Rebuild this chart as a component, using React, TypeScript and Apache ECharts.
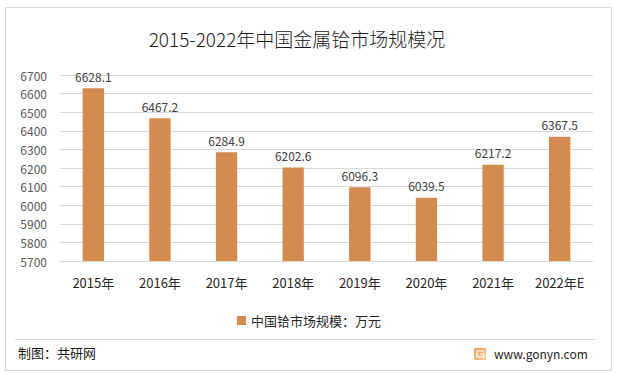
import React, { useEffect, useRef } from "react";
import * as echarts from "echarts";

const categories = ["2015年", "2016年", "2017年", "2018年", "2019年", "2020年", "2021年", "2022年E"];
const values = [6628.1, 6467.2, 6284.9, 6202.6, 6096.3, 6039.5, 6217.2, 6367.5];
const seriesName = "中国铪市场规模：万元";
const titleText = "2015-2022年中国金属铪市场规模况";
const sourceText = "制图：共研网";
const siteText = "www.gonyn.com";

export default function App() {
  const ref = useRef<HTMLDivElement>(null);
  useEffect(() => {
    if (!ref.current) return;
    const chart = echarts.init(ref.current, null, { renderer: "svg" });
    const font = "'Noto Sans CJK SC', 'Noto Sans', sans-serif";
    chart.setOption({
      animation: false,
      backgroundColor: "#ffffff",
      textStyle: { fontFamily: font },
      title: {
        text: titleText,
        left: 292,
        textAlign: "center",
        top: 24,
        textStyle: { fontSize: 19, fontWeight: 300, color: "#1a1a1a", fontFamily: font },
      },
      legend: {
        data: [seriesName],
        bottom: 44,
        left: "center",
        itemWidth: 9,
        itemHeight: 9,
        icon: "rect",
        itemGap: 6,
        textStyle: { fontSize: 13, color: "#262626", fontFamily: font },
      },
      grid: { left: 60, right: 25, top: 75, bottom: 115, containLabel: false },
      xAxis: {
        type: "category",
        data: categories,
        axisLine: { show: true, lineStyle: { color: "#d9d9d9" } },
        axisTick: { show: false },
        axisLabel: { fontSize: 13, color: "#262626", margin: 15, fontFamily: font },
      },
      yAxis: {
        type: "value",
        min: 5700,
        max: 6700,
        interval: 100,
        axisLine: { show: false },
        axisTick: { show: false },
        splitLine: { lineStyle: { color: "#d9d9d9" } },
        axisLabel: {
          fontSize: 12,
          color: "#595959",
          margin: 13,
          fontFamily: font,
          formatter: (v: number) => String(v),
        },
      },
      series: [
        {
          name: seriesName,
          type: "bar",
          data: values,
          barWidth: "32%",
          itemStyle: { color: "#D38B4F" },
          label: {
            show: true,
            position: "top",
            distance: 6,
            fontSize: 12,
            color: "#404040",
            fontFamily: font,
            formatter: (p: any) => Number(p.value).toFixed(1),
          },
        },
      ],
      graphic: [
        {
          type: "rect",
          shape: { x: 5.5, y: 7.5, width: 606, height: 363 },
          style: { fill: "none", stroke: "#d9d9d9", lineWidth: 1 },
          silent: true,
        },
        {
          type: "line",
          shape: { x1: 15, y1: 339.5, x2: 595, y2: 339.5 },
          style: { stroke: "#d9d9d9", lineWidth: 1 },
          silent: true,
        },
        {
          type: "text",
          left: 18,
          top: 346,
          style: { text: sourceText, fontSize: 13, fill: "#1a1a1a", fontFamily: font },
        },
        {
          type: "rect",
          shape: { x: 474, y: 348, width: 12, height: 12, r: 1 },
          style: {
            fill: new echarts.graphic.LinearGradient(0, 0, 1, 1, [
              { offset: 0, color: "#f59a5c" },
              { offset: 1, color: "#f8cf95" },
            ]),
          },
          silent: true,
        },
        {
          type: "polyline",
          shape: { points: [[484, 351], [477, 351], [477, 357], [484, 357], [484, 354], [480, 354]] },
          style: { stroke: "#ffffff", lineWidth: 1.2, fill: "none" },
          silent: true,
        },
        {
          type: "text",
          left: 494,
          top: 347,
          style: { text: siteText, fontSize: 12, fill: "#262626", fontFamily: font },
        },
      ],
    });
    return () => chart.dispose();
  }, []);
  return (
    <div
      ref={ref}
      style={{ position: "fixed", left: 0, top: 0, width: 618, height: 376 }}
    />
  );
}
